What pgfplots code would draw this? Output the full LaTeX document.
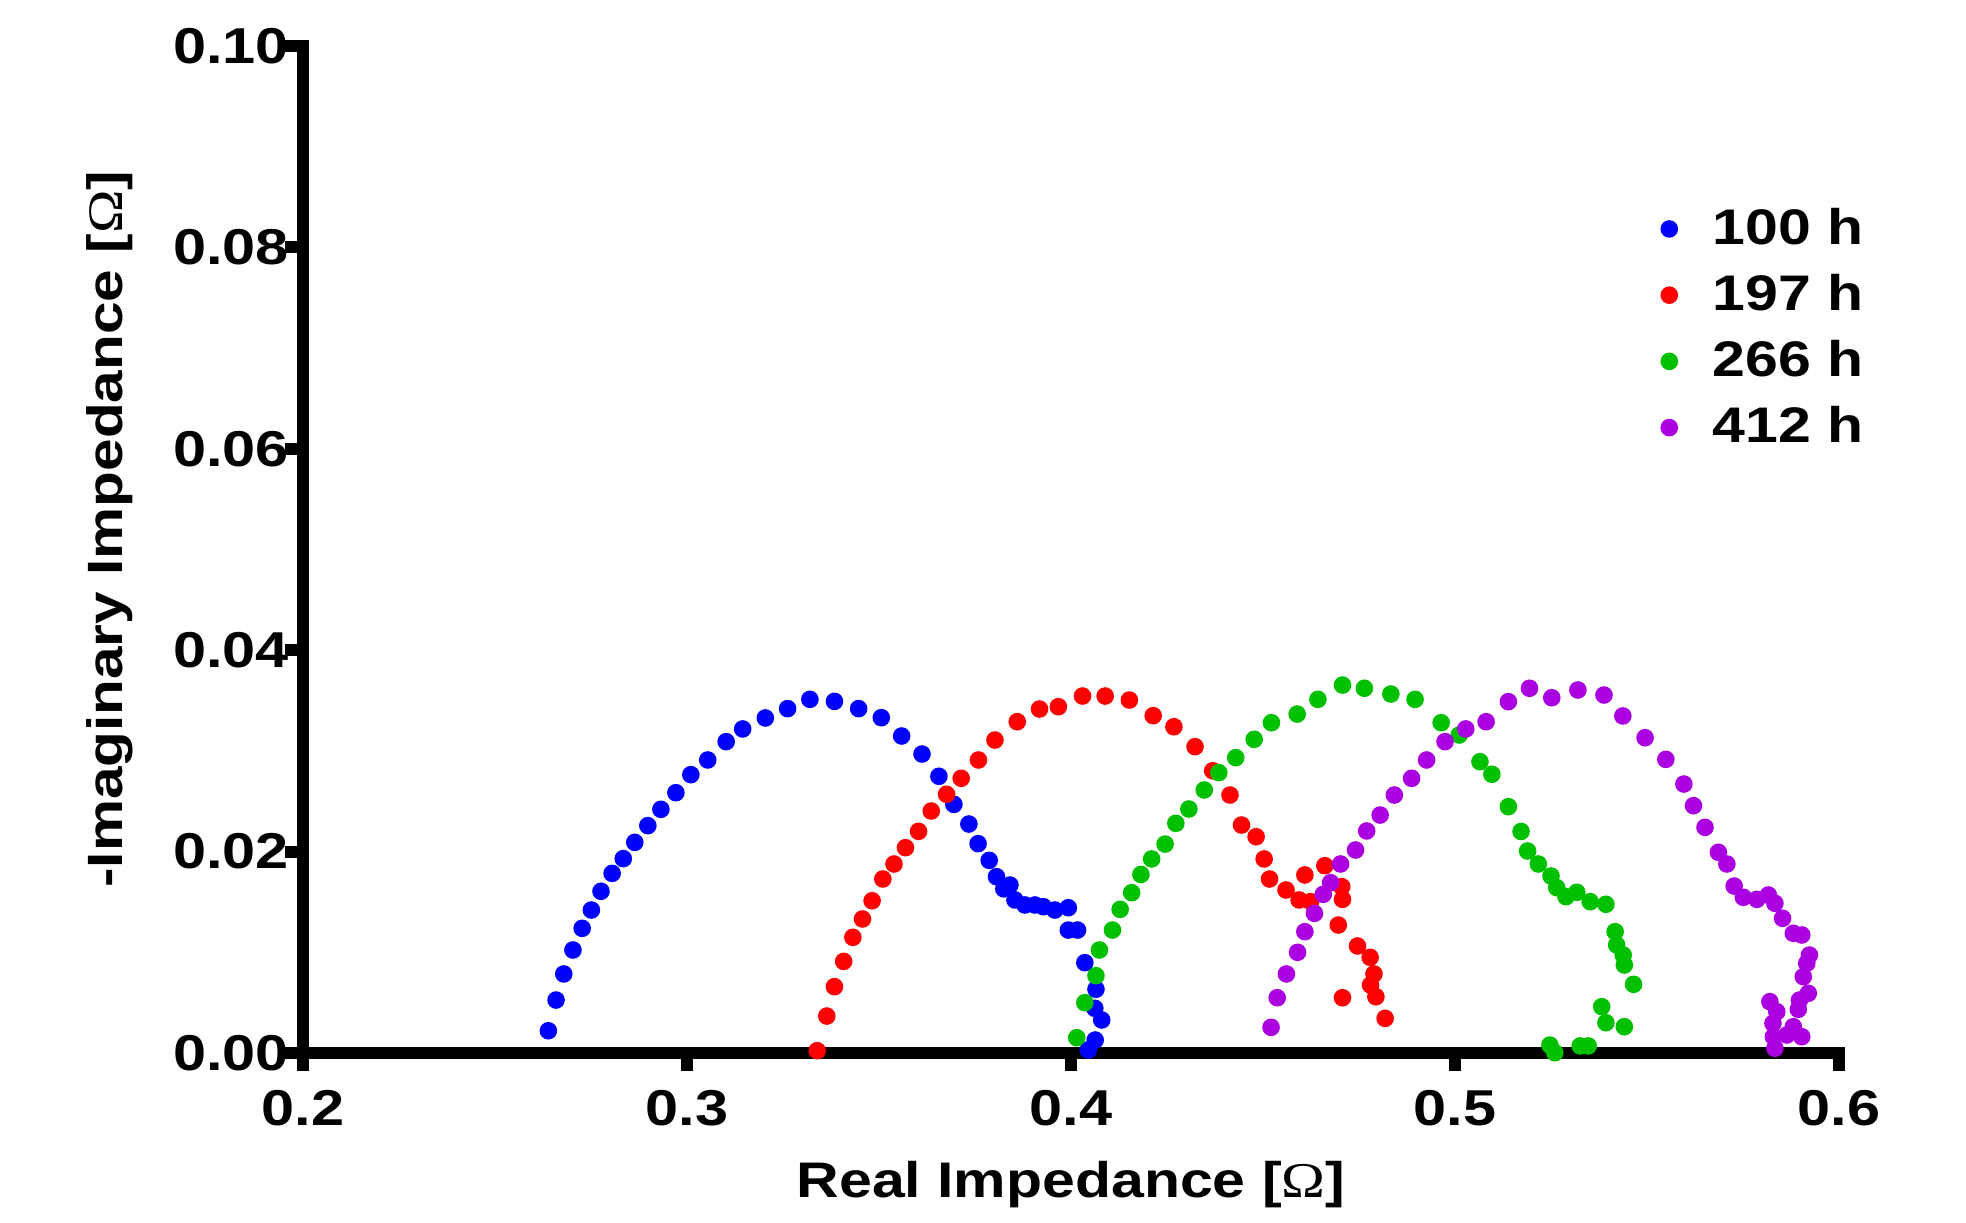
\documentclass[border=0pt]{standalone}
\usepackage{fontspec}
\setmainfont{Liberation Sans}[FakeStretch=1.18]
\newfontfamily\omegafont{Liberation Serif}[FakeStretch=1.18]
\usepackage{pgfplots}
\pgfplotsset{compat=1.18}
\definecolor{cblue}{RGB}{0,0,255}
\definecolor{cred}{RGB}{255,0,0}
\definecolor{cgreen}{RGB}{0,192,0}
\definecolor{cpurple}{RGB}{170,0,225}
\begin{document}
\begin{tikzpicture}
\useasboundingbox (-75.75pt,-42.25pt) rectangle (415.75pt,263.25pt);
\begin{axis}[
  width=384pt, height=251.75pt, scale only axis,
  xmin=0.2, xmax=0.6, ymin=0, ymax=0.10,
  axis lines=left,
  axis line style={-, line width=3pt, line cap=rect},
  tick style={line width=3pt, black},
  tick align=outside, major tick length=4.5pt,
  xtick={0.2,0.3,0.4,0.5,0.6},
  ytick={0,0.02,0.04,0.06,0.08,0.10},
  /pgf/number format/assume math mode=true,
  xticklabel style={yshift=-1.3pt, /pgf/number format/.cd, fixed, fixed zerofill, precision=1},
  yticklabel style={xshift=4.5pt, /pgf/number format/.cd, fixed, fixed zerofill, precision=2},
  ticklabel style={font=\fontsize{12.6}{14}\selectfont\bfseries},
  clip=false,
  xlabel={\textbf{Real Impedance [}{\omegafont Ω}\textbf{]}},
  ylabel={\textbf{-Imaginary Impedance [}{\omegafont Ω}\textbf{]}},
  every axis x label/.style={at={(axis description cs:0.5,-0.131)}, anchor=center, font=\fontsize{12.5}{14}\selectfont},
  every axis y label/.style={at={(axis description cs:-0.1257,0.52)}, rotate=90, anchor=center, font=\fontsize{12.4}{14}\selectfont},
  legend style={draw=none, fill=none, at={(rel axis cs:1.032,0.856)}, anchor=north east,
    font=\fontsize{12.5}{14}\selectfont\bfseries, row sep=2.0pt,
    nodes={inner xsep=3pt}},
  legend cell align=left,
  legend image code/.code={\draw[#1] plot coordinates {(0pt,0pt)}; \path[draw=none,fill=none] (-2.2pt,0pt) (7.8pt,0pt);},
  every axis plot/.append style={only marks, mark=*, mark size=2pt},
]
\addplot[cblue, mark options={fill=cblue, draw=cblue}] coordinates {
(0.2639,0.00221) (0.2659,0.00526) (0.2679,0.00785) (0.2703,0.01023) (0.2727,0.01238)
(0.2751,0.01420) (0.2776,0.01606) (0.2805,0.01784) (0.2834,0.01930) (0.2864,0.02092)
(0.2898,0.02258) (0.2932,0.02420) (0.2971,0.02585) (0.3010,0.02764) (0.3054,0.02910)
(0.3102,0.03092) (0.3145,0.03218) (0.3204,0.03327) (0.3262,0.03420) (0.3320,0.03512)
(0.3384,0.03492) (0.3447,0.03420) (0.3506,0.03330) (0.3559,0.03148) (0.3612,0.02969)
(0.3656,0.02748) (0.3695,0.02469) (0.3734,0.02274) (0.3758,0.02079) (0.3787,0.01913)
(0.3806,0.01751) (0.3825,0.01630) (0.3841,0.01668) (0.3854,0.01520) (0.3880,0.01470)
(0.3906,0.01470) (0.3928,0.01453) (0.3958,0.01420) (0.3993,0.01443) (0.3993,0.01221)
(0.4017,0.01221) (0.4036,0.00897) (0.4065,0.00633) (0.4062,0.00444) (0.4080,0.00328)
(0.4063,0.00129) (0.4045,0.00030)
};
\addlegendentry{100 h}
\addplot[cred, mark options={fill=cred, draw=cred}] coordinates {
(0.3339,0.00023) (0.3364,0.00367) (0.3384,0.00659) (0.3408,0.00910) (0.3432,0.01149)
(0.3457,0.01331) (0.3482,0.01512) (0.3510,0.01728) (0.3539,0.01877) (0.3569,0.02039)
(0.3603,0.02201) (0.3636,0.02403) (0.3676,0.02569) (0.3714,0.02728) (0.3759,0.02910)
(0.3802,0.03108) (0.3860,0.03290) (0.3918,0.03416) (0.3967,0.03439) (0.4030,0.03545)
(0.4089,0.03545) (0.4152,0.03505) (0.4214,0.03350) (0.4268,0.03240) (0.4323,0.03042)
(0.4369,0.02803) (0.4414,0.02562) (0.4444,0.02264) (0.4482,0.02148) (0.4503,0.01927)
(0.4517,0.01728) (0.4560,0.01619) (0.4594,0.01520) (0.4624,0.01503) (0.4609,0.01768)
(0.4661,0.01860) (0.4705,0.01652) (0.4707,0.01526) (0.4696,0.01271) (0.4746,0.01063)
(0.4779,0.00950) (0.4789,0.00785) (0.4780,0.00675) (0.4794,0.00559) (0.4707,0.00549)
(0.4818,0.00344)
};
\addlegendentry{197 h}
\addplot[cgreen, mark options={fill=cgreen, draw=cgreen}] coordinates {
(0.4015,0.00152) (0.4036,0.00500) (0.4065,0.00768) (0.4074,0.01023) (0.4108,0.01221)
(0.4128,0.01427) (0.4158,0.01592) (0.4182,0.01773) (0.4210,0.01927) (0.4245,0.02075)
(0.4273,0.02281) (0.4307,0.02423) (0.4347,0.02612) (0.4385,0.02784) (0.4429,0.02933)
(0.4477,0.03115) (0.4522,0.03280) (0.4589,0.03366) (0.4643,0.03512) (0.4707,0.03654)
(0.4764,0.03622) (0.4833,0.03565) (0.4896,0.03512) (0.4964,0.03280) (0.5011,0.03158)
(0.5065,0.02893) (0.5096,0.02768) (0.5139,0.02446) (0.5172,0.02200) (0.5189,0.02006)
(0.5217,0.01877) (0.5250,0.01758) (0.5265,0.01642) (0.5289,0.01552) (0.5317,0.01596)
(0.5352,0.01503) (0.5393,0.01477) (0.5417,0.01205) (0.5421,0.01073) (0.5438,0.00973)
(0.5441,0.00874) (0.5465,0.00682) (0.5382,0.00460) (0.5393,0.00301) (0.5441,0.00261)
(0.5247,0.00079) (0.5260,0.00003) (0.5326,0.00070) (0.5347,0.00070)
};
\addlegendentry{266 h}
\addplot[cpurple, mark options={fill=cpurple, draw=cpurple}] coordinates {
(0.4521,0.00255) (0.4537,0.00549) (0.4561,0.00785) (0.4590,0.01000) (0.4609,0.01205)
(0.4634,0.01387) (0.4657,0.01576) (0.4676,0.01691) (0.4702,0.01877) (0.4741,0.02016)
(0.4770,0.02205) (0.4805,0.02363) (0.4842,0.02562) (0.4887,0.02728) (0.4926,0.02910)
(0.4974,0.03092) (0.5028,0.03218) (0.5081,0.03290) (0.5139,0.03489) (0.5194,0.03622)
(0.5252,0.03528) (0.5320,0.03605) (0.5388,0.03555) (0.5437,0.03347) (0.5495,0.03131)
(0.5549,0.02916) (0.5596,0.02671) (0.5621,0.02456) (0.5651,0.02241) (0.5686,0.01993)
(0.5708,0.01877) (0.5727,0.01658) (0.5751,0.01546) (0.5786,0.01526) (0.5816,0.01569)
(0.5833,0.01487) (0.5853,0.01338) (0.5881,0.01189) (0.5903,0.01172) (0.5923,0.00973)
(0.5916,0.00891) (0.5907,0.00758) (0.5920,0.00593) (0.5897,0.00526) (0.5894,0.00434)
(0.5820,0.00510) (0.5838,0.00410) (0.5828,0.00295) (0.5829,0.00162) (0.5833,0.00047)
(0.5881,0.00261) (0.5903,0.00162) (0.5864,0.00179)
};
\addlegendentry{412 h}
\end{axis}
\end{tikzpicture}
\end{document}
